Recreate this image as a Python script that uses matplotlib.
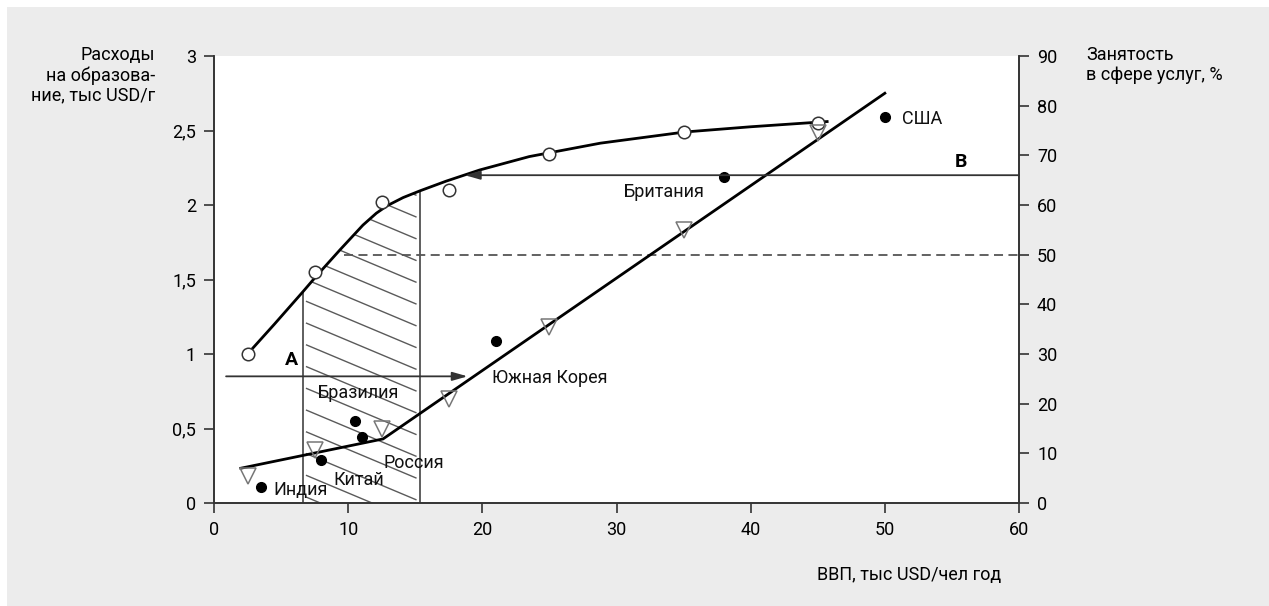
import numpy as np
import matplotlib
matplotlib.use('Agg')
import matplotlib.pyplot as plt
from matplotlib import font_manager
from matplotlib.patches import Rectangle, Polygon

# font: narrow sans if we have it
names = {f.name for f in font_manager.fontManager.ttflist}
if 'Liberation Sans Narrow' in names:
    plt.rcParams['font.family'] = ['Liberation Sans Narrow', 'DejaVu Sans']
else:
    plt.rcParams['font.family'] = ['Roboto', 'DejaVu Sans']
plt.rcParams['font.size'] = 13

# data
edu_x = [2.5, 7.5, 12.5, 17.5, 25, 35, 45]          # open circles, left axis
edu_y = [1.0, 1.55, 2.02, 2.1, 2.34, 2.49, 2.55]
emp_x = [2.5, 7.5, 12.5, 17.5, 25, 35, 45]          # triangles, right axis
emp_y = [5.5, 10.7, 15, 21, 35.5, 55, 74.5]

edu_trend_x = [2.5, 4.5, 6.6, 7.6, 9.4, 11.1, 12.1, 12.9, 14.1, 15.35, 17.3, 19.8,
               23.5, 28.8, 35.1, 40, 45.7]
edu_trend_y = [1.0, 1.2, 1.415, 1.52, 1.70, 1.865, 1.945, 1.995, 2.05, 2.095, 2.16,
               2.235, 2.325, 2.415, 2.49, 2.525, 2.56]
emp_trend_x = [2, 12.6, 50]
emp_trend_y = [7, 12.9, 82.5]

countries = ['Индия', 'Китай', 'Бразилия', 'Россия', 'Южная Корея', 'Британия', 'США']
country_x = [3.5, 8, 10.5, 11, 21, 38, 50]
country_y = [0.11, 0.29, 0.55, 0.44, 1.09, 2.19, 2.59]
label_x = [4.4, 8.9, 7.75, 12.6, 20.7, 30.5, 51.3]
label_y = [0.087, 0.155, 0.74, 0.27, 0.84, 2.09, 2.58]

zone_x = (6.6, 15.35)     # hatched band
arrow_a = (0.9, 18.9, 0.85)    # x from, x to, y (left axis)
arrow_b = (60, 18.7, 66)       # x from, x to, y (right axis)
dash_level = 50
dash_start = 9.7

xticks = [0, 10, 20, 30, 40, 50, 60]
lticks = [0, 0.5, 1, 1.5, 2, 2.5, 3]
lticklabels = ['0', '0,5', '1', '1,5', '2', '2,5', '3']
rticks = [0, 10, 20, 30, 40, 50, 60, 70, 80, 90]

dark = '#333333'

fig = plt.figure(figsize=(12.69, 6.06), dpi=100)
fig.patch.set_facecolor('white')
fig.add_artist(Rectangle((7 / 1269, 0), 1, 1 - 7 / 606, transform=fig.transFigure,
                         facecolor='#ececec', edgecolor='none', zorder=-10))

ax = fig.add_axes([214 / 1269, 103 / 606, 805 / 1269, 447 / 606])
ax.set_facecolor('white')
ax.set_xlim(0, 60)
ax.set_ylim(0, 3)
ax2 = ax.twinx()
ax2.set_ylim(0, 90)

for a in (ax, ax2):
    a.spines['top'].set_visible(False)
    for s in ('left', 'right', 'bottom'):
        a.spines[s].set_color(dark)
        a.spines[s].set_linewidth(1.2)
    a.tick_params(direction='out', length=7, width=1.2, color=dark, pad=6, labelsize=13)
ax.set_xticks(xticks)
ax.set_yticks(lticks)
ax.set_yticklabels(lticklabels)
ax2.set_yticks(rticks)

# hatched zone under the education curve
xs = np.linspace(zone_x[0], zone_x[1], 80)
top = np.interp(xs, edu_trend_x, edu_trend_y)
poly = np.vstack([[zone_x[0], 0], np.column_stack([xs, top]), [zone_x[1], 0]])
zone = Polygon(poly, closed=True, facecolor='none', edgecolor='none')
ax.add_patch(zone)
slope = -0.42 * 13.42 / 149
for c in np.arange(0.05, 3.2, 0.146):
    hx = np.array([zone_x[0] + 0.3, zone_x[1] - 0.3])
    hy = c + slope * (hx - zone_x[0])
    ln, = ax.plot(hx, hy, color='#5a5a5a', lw=1, zorder=1)
    ln.set_clip_path(zone)
for zx, zt in zip(zone_x, np.interp(zone_x, edu_trend_x, edu_trend_y)):
    ax.plot([zx, zx], [0, zt], color=dark, lw=1.1, zorder=2)

# trend lines
ax.plot(edu_trend_x, edu_trend_y, color='black', lw=2, zorder=3)
ax2.plot(emp_trend_x, emp_trend_y, color='black', lw=2, zorder=3)

# dashed level and arrows
ax2.plot([dash_start, 60], [dash_level, dash_level], color='#555555', lw=1.3,
         ls=(0, (5, 3)), zorder=2)
ax.annotate('', xy=(arrow_a[1], arrow_a[2]), xytext=(arrow_a[0], arrow_a[2]),
            arrowprops=dict(arrowstyle='-|>,head_length=0.7,head_width=0.2',
                            color=dark, lw=1.3, shrinkA=0, shrinkB=0))
ax2.annotate('', xy=(arrow_b[1], arrow_b[2]), xytext=(arrow_b[0], arrow_b[2]),
             arrowprops=dict(arrowstyle='-|>,head_length=0.7,head_width=0.2',
                             color=dark, lw=1.3, shrinkA=0, shrinkB=0))
ax.text(5.3, 0.96, 'A', fontweight='bold', fontsize=14, va='center')
ax.text(55.2, 2.29, 'B', fontweight='bold', fontsize=14, va='center')

# markers
ax.plot(edu_x, edu_y, 'o', ms=9, mfc='white', mec=dark, mew=1.1, zorder=5)
ax2.plot(emp_x, emp_y, 'v', ms=11, mfc='none', mec='#777777', mew=1.1, zorder=4)
ax.plot(country_x, country_y, 'o', ms=7, color='black', zorder=6)
for name, lx, ly in zip(countries, label_x, label_y):
    ax.text(lx, ly, name, fontsize=13, va='center', ha='left', color='#111111', zorder=7)

# axis titles
fig.text(155 / 1269, 1 - 46 / 606, 'Расходы\nна образова-\nние, тыс USD/г',
         ha='right', va='top', fontsize=13, linespacing=1.15)
fig.text(1086 / 1269, 1 - 46 / 606, 'Занятость\nв сфере услуг, %',
         ha='left', va='top', fontsize=13, linespacing=1.15)
fig.text(1001 / 1269, 1 - 575 / 606, 'ВВП, тыс USD/чел год',
         ha='right', va='center', fontsize=13)

fig.savefig('out.png', dpi=100, facecolor=fig.get_facecolor())
